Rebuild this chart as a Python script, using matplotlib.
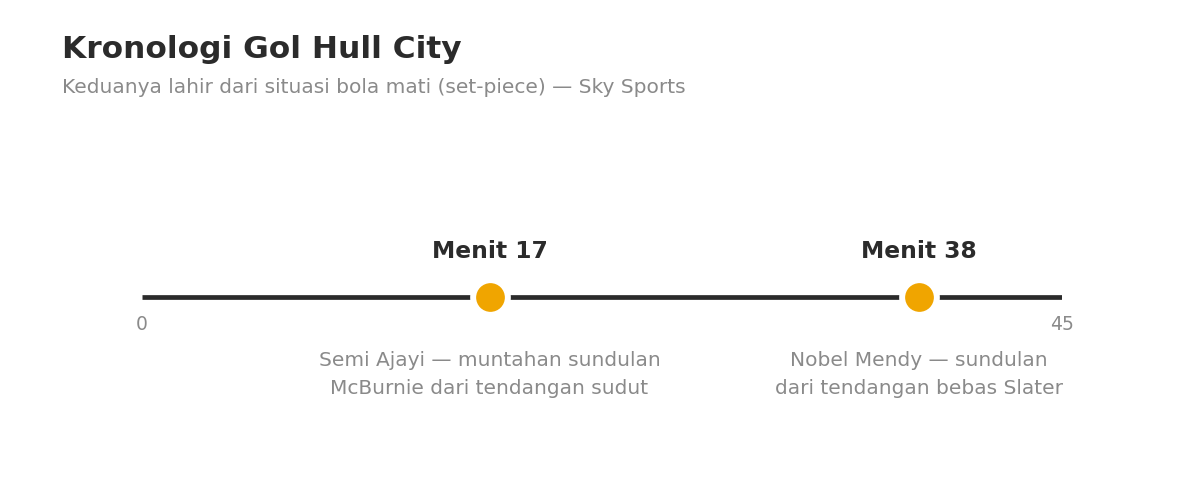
import matplotlib
matplotlib.use("Agg")
import matplotlib.pyplot as plt

plt.rcParams["font.family"] = ["DejaVu Sans"]

# timeline data
minutes = [17, 38]
labels = ["Menit 17", "Menit 38"]
details = [
    "Semi Ajayi — muntahan sundulan\nMcBurnie dari tendangan sudut",
    "Nobel Mendy — sundulan\ndari tendangan bebas Slater",
]
start, end = 0, 45

DARK = "#2b2b2b"
GREY = "#8a8a8a"
GOLD = "#f0a500"

fig = plt.figure(figsize=(11.87, 5), dpi=100)
fig.text(62 / 1187, 1 - 50 / 500, "Kronologi Gol Hull City", fontsize=22.5,
         fontweight="bold", color=DARK, va="center", ha="left")
fig.text(62 / 1187, 1 - 88 / 500,
         "Keduanya lahir dari situasi bola mati (set-piece) — Sky Sports",
         fontsize=14.5, color=GREY, va="center", ha="left")

# axes spans full height, y in pixels from top
ax = fig.add_axes([142 / 1187, 0, 920 / 1187, 1])
ax.set_xlim(start, end)
ax.set_ylim(500, 0)
ax.axis("off")

ax.plot([start, end], [297, 297], color=DARK, lw=3.4, solid_capstyle="butt", zorder=1)
ax.plot(minutes, [297] * len(minutes), "o", ms=25, mfc=GOLD, mec="white",
        mew=4.3, zorder=2)

for m, lab, det in zip(minutes, labels, details):
    ax.text(m, 251, lab, fontsize=16.8, fontweight="bold", color=DARK,
            ha="center", va="center")
    ax.text(m, 374, det, fontsize=14.5, color=GREY, ha="center", va="center",
            linespacing=1.6)

ax.text(start, 325, str(start), fontsize=13.5, color=GREY, ha="center", va="center")
ax.text(end, 325, str(end), fontsize=13.5, color=GREY, ha="center", va="center")

fig.savefig("out.png", dpi=100)
